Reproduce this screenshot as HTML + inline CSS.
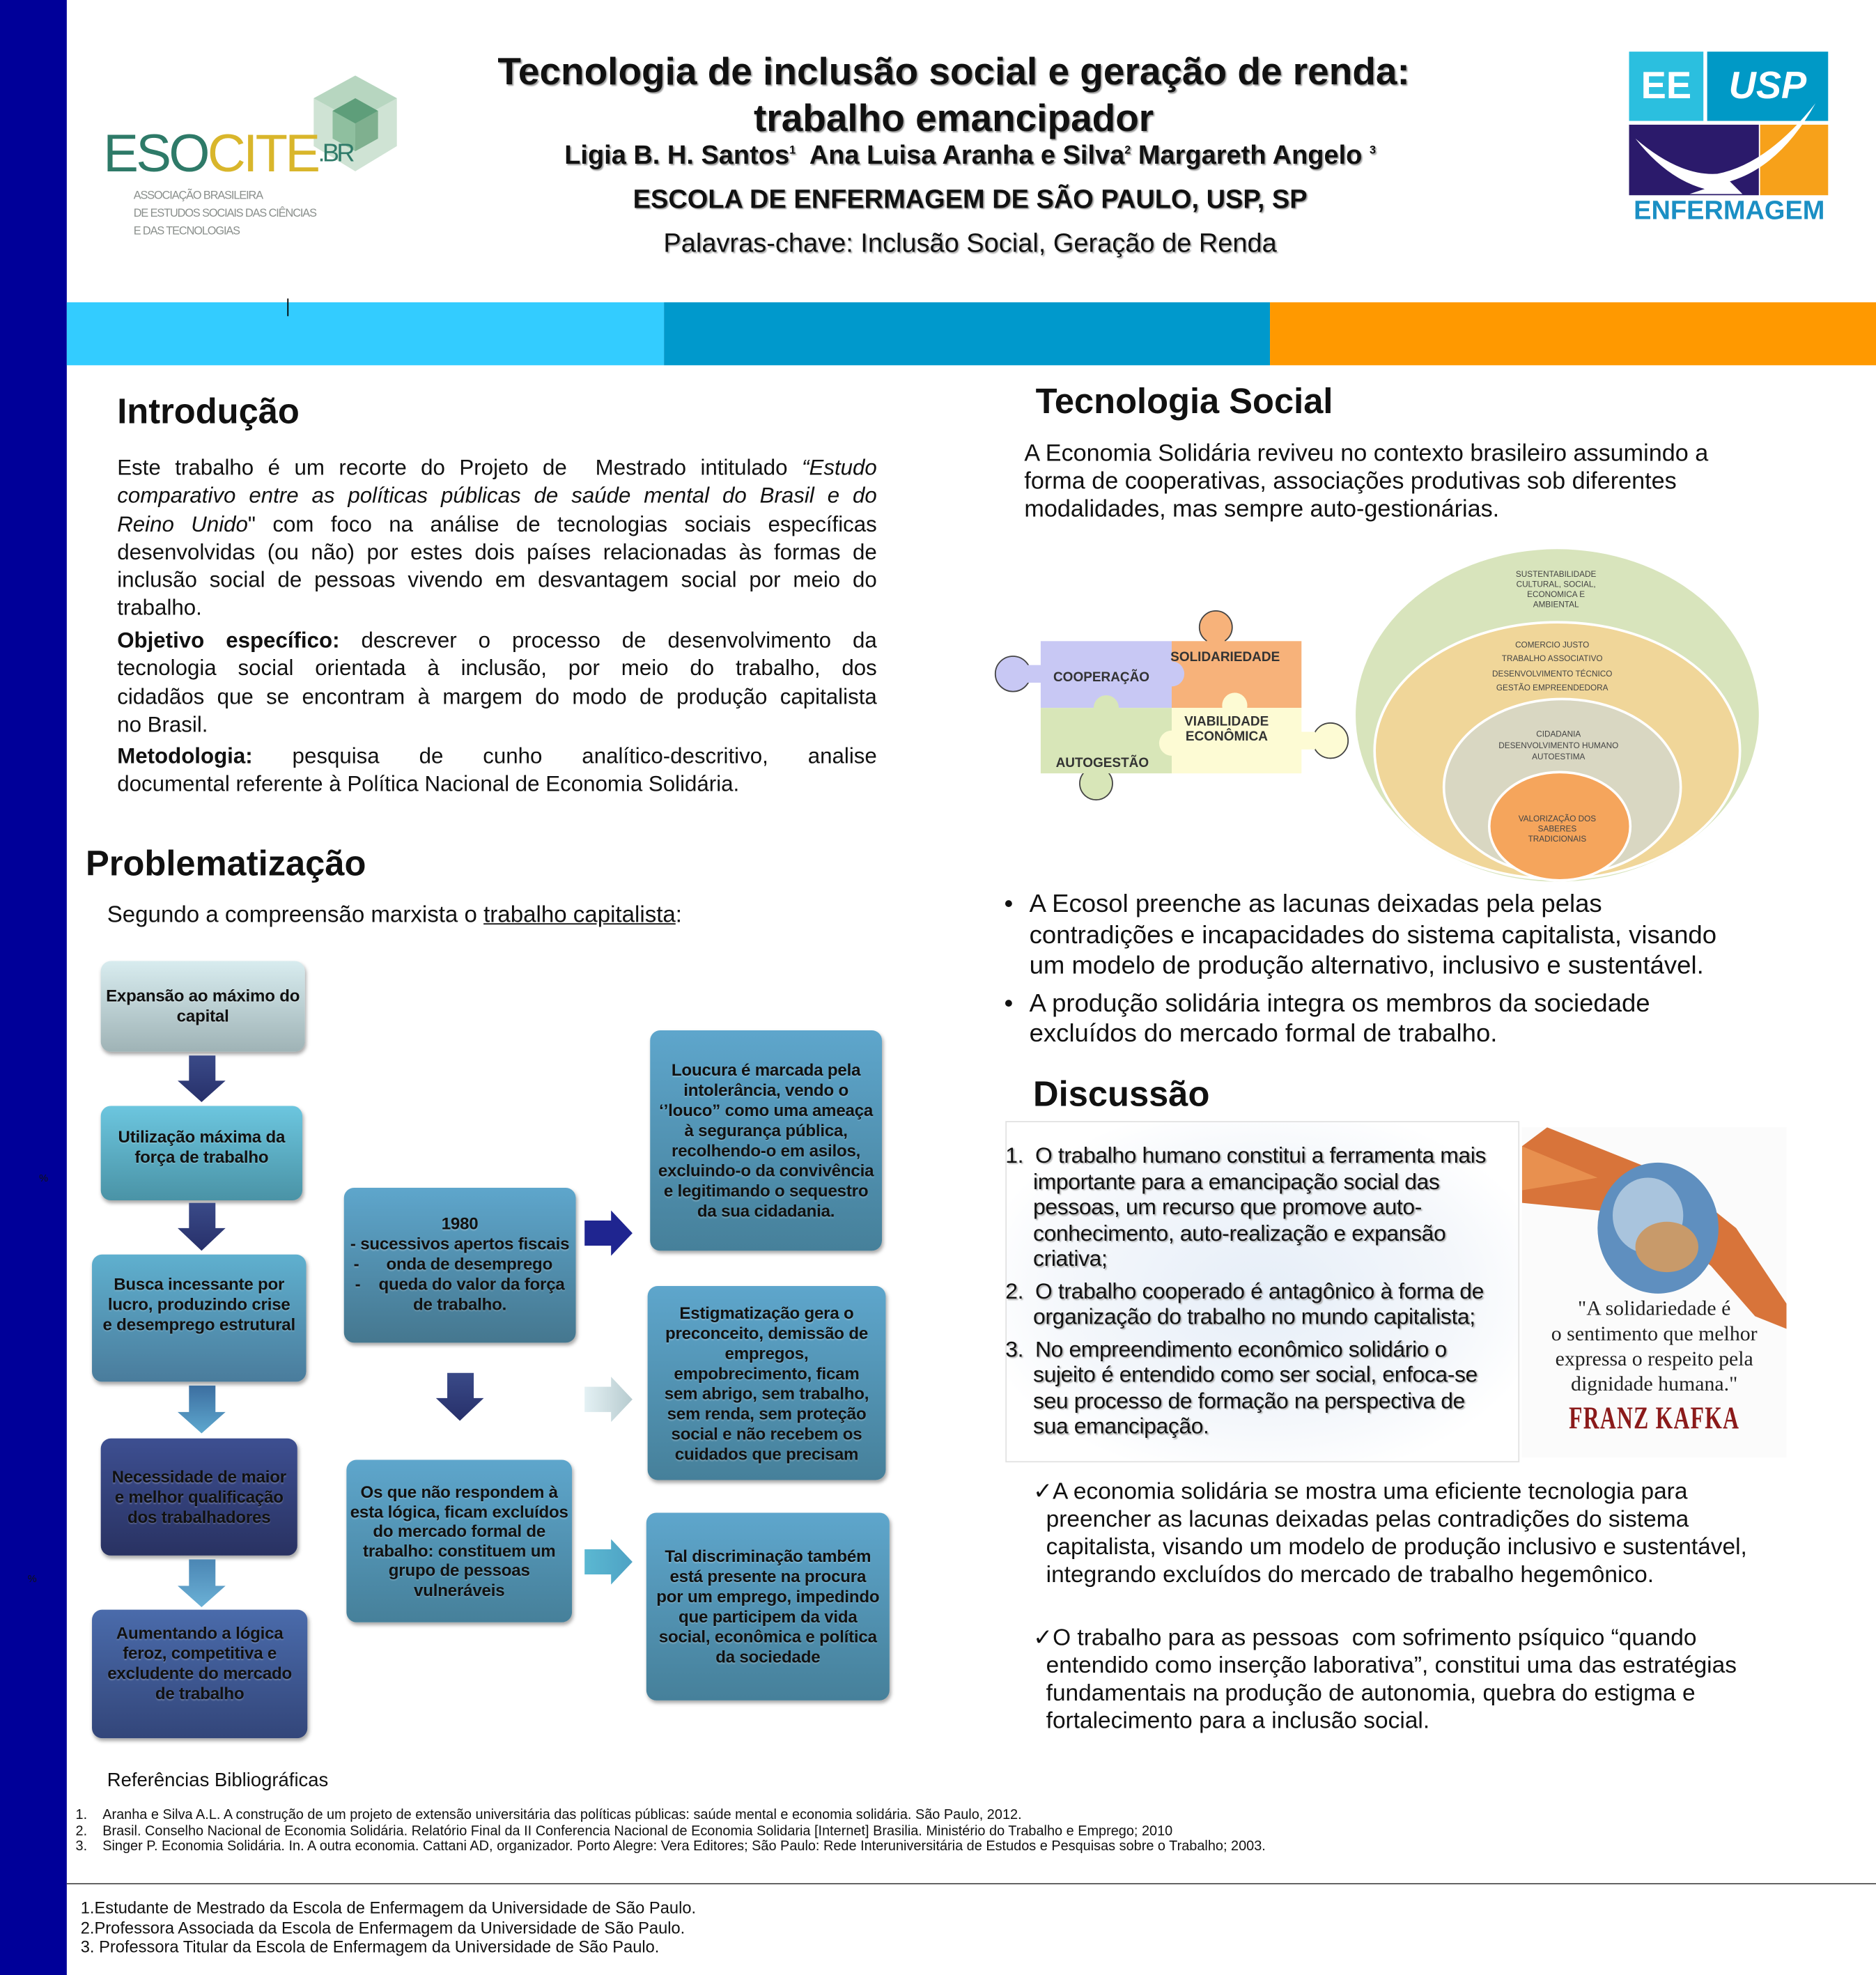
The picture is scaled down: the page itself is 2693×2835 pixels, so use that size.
<!DOCTYPE html>
<html><head><meta charset="utf-8">
<style>
*{margin:0;padding:0;box-sizing:border-box}
html,body{width:2693px;height:2835px;overflow:hidden;background:#fff}
#s{position:absolute;left:0;top:0;width:1489px;height:1568px;transform:scale(1.8086,1.80804);transform-origin:0 0;font-family:"Liberation Sans",sans-serif;color:#111}
.a{position:absolute}
.h{font-weight:bold;font-size:28px;color:#111}
.j div{text-align:justify;text-align-last:justify}
.j div.l{text-align-last:left}
.box{position:absolute;border-radius:8px;box-shadow:1px 2px 3px rgba(0,0,0,.35);display:flex;align-items:center;justify-content:center;text-align:center;font-weight:bold;font-size:13.3px;line-height:16px;color:#111;text-shadow:0 1px 1px rgba(255,255,255,.25);white-space:nowrap;letter-spacing:-0.1px}
.dl div{white-space:nowrap}
</style></head><body>
<div id="s">
<div class="a" style="left:0;top:0;width:53px;height:1568px;background:#000099"></div>
<div class="a" style="left:53px;top:240px;width:474px;height:50px;background:#33ccff"></div>
<div class="a" style="left:527px;top:240px;width:481px;height:50px;background:#0099cc"></div>
<div class="a" style="left:1008px;top:240px;width:481px;height:50px;background:#ff9900"></div>
<div class="a" style="left:228px;top:237px;width:1px;height:14px;background:#000"></div>
<div class="a" style="left:31px;top:931px;font-size:8px">%</div>
<div class="a" style="left:22px;top:1249px;font-size:8px">%</div>

<div class="a" style="left:250px;top:39px;width:1014px;text-align:center;font-weight:bold;font-size:30.4px;line-height:37px;text-shadow:1px 1px 1px #999">Tecnologia de inclusão social e geração de renda:<br>trabalho emancipador</div>
<div class="a" style="left:250px;top:112px;width:1040px;text-align:center;font-weight:bold;font-size:21px;text-shadow:1px 1px 1px #999">Ligia B. H. Santos<sup style="font-size:9px">1</sup>&nbsp; Ana Luisa Aranha e Silva<sup style="font-size:9px">2</sup> Margareth Angelo <sup style="font-size:9px">3</sup></div>
<div class="a" style="left:250px;top:147px;width:1040px;text-align:center;font-weight:bold;font-size:21px;text-shadow:1px 1px 1px #999">ESCOLA DE ENFERMAGEM DE SÃO PAULO, USP, SP</div>
<div class="a" style="left:250px;top:182px;width:1040px;text-align:center;font-size:21px;text-shadow:1px 1px 1px #aaa">Palavras-chave: Inclusão Social, Geração de Renda</div>

<svg class="a" style="left:245px;top:58px" width="75" height="80" viewBox="0 0 75 80">
<polygon points="37,2 70,20 70,58 37,78 4,58 4,20" fill="#cfe3d4"/>
<polygon points="37,2 70,20 37,38 4,20" fill="#b7d6c0"/>
<polygon points="37,20 55,30 55,52 37,62 19,52 19,30" fill="#8fbf9f"/>
<polygon points="37,20 55,30 37,40 19,30" fill="#5e9e7a"/>
<polygon points="37,40 55,30 55,52 37,62" fill="#7fb08f"/>
</svg>
<div class="a" style="left:82px;top:100px;font-size:42px;letter-spacing:-2px;line-height:44px"><span style="color:#2e7a68">ESO</span><span style="color:#d9b62b">CITE</span><span style="color:#2e7a68;font-size:20px;vertical-align:top">.BR</span></div>
<div class="a" style="left:106px;top:148px;font-size:9px;line-height:14px;color:#8a8f8c;letter-spacing:-0.6px">ASSOCIAÇÃO BRASILEIRA<br>DE ESTUDOS SOCIAIS DAS CIÊNCIAS<br>E DAS TECNOLOGIAS</div>

<div class="a" style="left:1293px;top:41px;width:59px;height:55px;background:#2bbfdf;color:#fff;font-weight:bold;font-size:30px;text-align:center;line-height:55px">EE</div>
<div class="a" style="left:1355px;top:41px;width:96px;height:55px;background:#0099c6;color:#fff;font-weight:bold;font-size:30px;text-align:center;line-height:55px;font-style:italic">USP</div>
<div class="a" style="left:1293px;top:99px;width:103px;height:56px;background:#2b1a6b"></div>
<div class="a" style="left:1397px;top:99px;width:54px;height:56px;background:#f7a11a"></div>
<svg class="a" style="left:1293px;top:80px" width="160" height="78"><path d="M148 2 Q110 50 70 58 Q40 60 5 30 Q30 62 60 70 L48 74 L90 74 L80 64 Q120 52 148 2Z" fill="#fff"/></svg>
<div class="a" style="left:1290px;top:156px;width:165px;text-align:center;font-weight:bold;font-size:21px;color:#1b8fc4">ENFERMAGEM</div>

<div class="a h" style="left:93px;top:311px">Introdução</div>
<div class="a j" style="left:93px;top:360px;width:603px;font-size:17.3px;line-height:22.3px">
<div>Este trabalho é um recorte do Projeto de &nbsp;Mestrado intitulado <i>“Estudo</i></div>
<div><i>comparativo entre as políticas públicas de saúde mental do Brasil e do</i></div>
<div><i>Reino Unido</i>" com foco na análise de tecnologias sociais específicas</div>
<div>desenvolvidas (ou não) por estes dois países relacionadas às formas de</div>
<div>inclusão social de pessoas vivendo em desvantagem social por meio do</div>
<div class="l">trabalho.</div>
</div>
<div class="a j" style="left:93px;top:497px;width:603px;font-size:17.3px;line-height:22.3px">
<div><b>Objetivo específico:</b> descrever o processo de desenvolvimento da</div>
<div>tecnologia social orientada à inclusão, por meio do trabalho, dos</div>
<div>cidadãos que se encontram à margem do modo de produção capitalista</div>
<div class="l">no Brasil.</div>
</div>
<div class="a j" style="left:93px;top:589px;width:603px;font-size:17.3px;line-height:22.3px">
<div><b>Metodologia:</b> pesquisa de cunho analítico-descritivo, analise</div>
<div class="l">documental referente à Política Nacional de Economia Solidária.</div>
</div>

<div class="a h" style="left:68px;top:670px">Problematização</div>
<div class="a" style="left:85px;top:715px;font-size:18.3px">Segundo a compreensão marxista o <u>trabalho capitalista</u>:</div>

<div class="box" style="left:80px;top:763px;width:162px;height:72px;background:linear-gradient(#d8ecef,#9fb3b6)">Expansão ao máximo do<br>capital</div>
<div class="box" style="left:80px;top:878px;width:160px;height:75px;background:linear-gradient(#6cc6df,#4a93a6);padding-bottom:10px">Utilização máxima da<br>força de trabalho</div>
<div class="box" style="left:73px;top:996px;width:170px;height:101px;background:linear-gradient(#5fb0cf,#4a7c9c);align-items:flex-start;padding-top:16px">Busca incessante por<br>lucro, produzindo crise<br>e desemprego estrutural</div>
<div class="box" style="left:80px;top:1142px;width:156px;height:93px;background:linear-gradient(#3d4f91,#293262)">Necessidade de maior<br>e melhor qualificação<br>dos trabalhadores</div>
<div class="box" style="left:73px;top:1278px;width:171px;height:102px;background:linear-gradient(#4a6bab,#33467a);align-items:flex-start;padding-top:11px">Aumentando a lógica<br>feroz, competitiva e<br>excludente do mercado<br>de trabalho</div>

<div class="box" style="left:273px;top:943px;width:184px;height:123px;background:linear-gradient(#5ea6cc,#45778f);align-items:flex-start;padding-top:21px;text-align:center">1980<br>- sucessivos apertos fiscais<br>-&nbsp;&nbsp;&nbsp;&nbsp;&nbsp;&nbsp;onda de desemprego&nbsp;&nbsp;&nbsp;<br>-&nbsp;&nbsp;&nbsp;&nbsp;queda do valor da força<br>de trabalho.</div>
<div class="box" style="left:275px;top:1159px;width:179px;height:129px;background:linear-gradient(#5ea6cc,#46809a);align-items:flex-start;padding-top:18px;line-height:15.6px">Os que não respondem à<br>esta lógica, ficam excluídos<br>do mercado formal de<br>trabalho: constituem um<br>grupo de pessoas<br>vulneráveis</div>

<div class="box" style="left:516px;top:818px;width:184px;height:175px;background:linear-gradient(#5ea6cc,#46809a);align-items:flex-start;padding-top:24px">Loucura é marcada pela<br>intolerância, vendo o<br>‘’louco” como uma ameaça<br>à segurança pública,<br>recolhendo-o em asilos,<br>excluindo-o da convivência<br>e legitimando o sequestro<br>da sua cidadania.</div>
<div class="box" style="left:514px;top:1021px;width:189px;height:154px;background:linear-gradient(#5ea6cc,#46809a);align-items:flex-start;padding-top:14px">Estigmatização gera o<br>preconceito, demissão de<br>empregos,<br>empobrecimento, ficam<br>sem abrigo, sem trabalho,<br>sem renda, sem proteção<br>social e não recebem os<br>cuidados que precisam</div>
<div class="box" style="left:513px;top:1201px;width:193px;height:149px;background:linear-gradient(#5ea6cc,#46809a);align-items:flex-start;padding-top:27px">Tal discriminação também<br>está presente na procura<br>por um emprego, impedindo<br>que participem da vida<br>social, econômica e política<br>da sociedade</div>

<svg class="a" style="left:0;top:0" width="720" height="1400">
<defs>
<linearGradient id="g1" x1="0" y1="0" x2="0" y2="1"><stop offset="0" stop-color="#3a4a88"/><stop offset="1" stop-color="#27306a"/></linearGradient>
<linearGradient id="g2" x1="0" y1="0" x2="0" y2="1"><stop offset="0" stop-color="#3c6ea0"/><stop offset="1" stop-color="#5ea8cf"/></linearGradient>
<linearGradient id="g3" x1="0" y1="0" x2="0" y2="1"><stop offset="0" stop-color="#4b86b4"/><stop offset="1" stop-color="#6bb1d6"/></linearGradient>
<linearGradient id="g4" x1="0" y1="0" x2="1" y2="0"><stop offset="0" stop-color="#e4f1f4"/><stop offset="1" stop-color="#b7cbcf"/></linearGradient>
<linearGradient id="g5" x1="0" y1="0" x2="1" y2="0"><stop offset="0" stop-color="#5bb8d2"/><stop offset="1" stop-color="#4ea2c4"/></linearGradient>
</defs>
<polygon points="150,838 171,838 171,858 179,858 160,875 141,858 150,858" fill="url(#g1)"/>
<polygon points="150,955 171,955 171,975 179,975 160,993 141,975 150,975" fill="url(#g1)"/>
<polygon points="150,1100 171,1100 171,1121 179,1121 160,1138 141,1121 150,1121" fill="url(#g2)"/>
<polygon points="150,1238 171,1238 171,1259 179,1259 160,1276 141,1259 150,1259" fill="url(#g3)"/>
<polygon points="355,1090 376,1090 376,1110 384,1110 365,1128 346,1110 355,1110" fill="url(#g1)"/>
<polygon points="464,969 485,969 485,961 502,979 485,997 485,989 464,989" fill="#1f2590"/>
<polygon points="464,1101 485,1101 485,1093 502,1111 485,1129 485,1121 464,1121" fill="url(#g4)"/>
<polygon points="464,1230 485,1230 485,1222 502,1240 485,1258 485,1250 464,1250" fill="url(#g5)"/>
</svg>

<div class="a h" style="left:822px;top:303px">Tecnologia Social</div>
<div class="a" style="left:813px;top:350px;font-size:18.9px;line-height:22px">A Economia Solidária reviveu no contexto brasileiro assumindo a<br>forma de cooperativas, associações produtivas sob diferentes<br>modalidades, mas sempre auto-gestionárias.</div>

<svg class="a" style="left:780px;top:480px" width="300" height="160" viewBox="780 480 300 160">
<g stroke="#444" stroke-width="1">
<circle cx="804" cy="535" r="14" fill="#c8c8f4"/>
<circle cx="965" cy="498" r="13" fill="#f7b27a"/>
<circle cx="870" cy="622" r="13" fill="#d8e6b8"/>
<circle cx="1056" cy="588" r="14" fill="#fdfbd4"/>
</g>
<rect x="814" y="528" width="14" height="14" fill="#c8c8f4"/>
<rect x="958" y="506" width="14" height="6" fill="#f7b27a"/>
<rect x="863" y="610" width="14" height="6" fill="#d8e6b8"/>
<rect x="1030" y="581" width="14" height="14" fill="#fdfbd4"/>
<rect x="826" y="509" width="104" height="53" fill="#c8c8f4"/>
<rect x="930" y="509" width="103" height="53" fill="#f7b27a"/>
<rect x="826" y="562" width="104" height="52" fill="#d8e6b8"/>
<rect x="930" y="562" width="103" height="52" fill="#fdfbd4"/>
<circle cx="930" cy="535" r="10" fill="#c8c8f4"/>
<circle cx="980" cy="560" r="10" fill="#fdfbd4"/>
<circle cx="878" cy="562" r="10" fill="#d8e6b8"/>
<circle cx="930" cy="590" r="10" fill="#fdfbd4"/>
<g font-family="Liberation Sans,sans-serif" font-weight="bold" font-size="10.5" fill="#333">
<text x="836" y="541">COOPERAÇÃO</text>
<text x="929" y="525">SOLIDARIEDADE</text>
<text x="940" y="576">VIABILIDADE</text>
<text x="941" y="588">ECONÔMICA</text>
<text x="838" y="609">AUTOGESTÃO</text>
</g>
</svg>

<svg class="a" style="left:1070px;top:430px" width="340" height="280" viewBox="1070 430 340 280">
<ellipse cx="1236" cy="568" rx="160" ry="132" fill="#d8e4bc"/>
<ellipse cx="1236" cy="596" rx="145" ry="102" fill="#f0d699" stroke="#fff" stroke-width="2"/>
<ellipse cx="1240" cy="625" rx="94" ry="70" fill="#d9d7c2" stroke="#fff" stroke-width="2"/>
<ellipse cx="1238" cy="656" rx="56" ry="43" fill="#f5a55c" stroke="#fff" stroke-width="2"/>
<g font-family="Liberation Sans,sans-serif" font-size="6.5" fill="#444" text-anchor="middle">
<text x="1235" y="458">SUSTENTABILIDADE</text><text x="1235" y="466">CULTURAL, SOCIAL,</text><text x="1235" y="474">ECONOMICA E</text><text x="1235" y="482">AMBIENTAL</text>
<text x="1232" y="514">COMERCIO JUSTO</text><text x="1232" y="525">TRABALHO ASSOCIATIVO</text><text x="1232" y="537">DESENVOLVIMENTO TÉCNICO</text><text x="1232" y="548">GESTÃO EMPREENDEDORA</text>
<text x="1237" y="585">CIDADANIA</text><text x="1237" y="594">DESENVOLVIMENTO HUMANO</text><text x="1237" y="603">AUTOESTIMA</text>
<text x="1236" y="652">VALORIZAÇÃO DOS</text><text x="1236" y="660">SABERES</text><text x="1236" y="668">TRADICIONAIS</text>
</g>
</svg>

<div class="a" style="left:797px;top:706px;font-size:20.2px;line-height:24.5px">•<br><br><br><span style="position:relative;top:5px">•</span></div>
<div class="a" style="left:817px;top:706px;font-size:20.2px;line-height:24.5px;white-space:nowrap">A Ecosol preenche as lacunas deixadas pela pelas<br>contradições e incapacidades do sistema capitalista, visando<br>um modelo de produção alternativo, inclusivo e sustentável.<div style="height:5px"></div>A produção solidária integra os membros da sociedade<br>excluídos do mercado formal de trabalho.</div>

<div class="a h" style="left:820px;top:853px">Discussão</div>
<div class="a" style="left:798px;top:890px;width:408px;height:271px;border:1px solid #e2e2e2;background:radial-gradient(ellipse at 50% 50%,#e6eef8 0%,#f4f7fb 55%,#fff 80%)"></div>
<div class="a dl" style="left:798px;top:907px;font-size:17.6px;line-height:20.5px;text-shadow:1px 1px 1px #aaa;letter-spacing:-0.2px">
<div>1.&nbsp; O trabalho humano constitui a ferramenta mais</div>
<div style="padding-left:22px">importante para a emancipação social das</div>
<div style="padding-left:22px">pessoas, um recurso que promove auto-</div>
<div style="padding-left:22px">conhecimento, auto-realização e expansão</div>
<div style="padding-left:22px">criativa;</div>
<div style="margin-top:5px">2.&nbsp; O trabalho cooperado é antagônico à forma de</div>
<div style="padding-left:22px">organização do trabalho no mundo capitalista;</div>
<div style="margin-top:5px">3.&nbsp; No empreendimento econômico solidário o</div>
<div style="padding-left:22px">sujeito é entendido como ser social, enfoca-se</div>
<div style="padding-left:22px">seu processo de formação na perspectiva de</div>
<div style="padding-left:22px">sua emancipação.</div>
</div>

<div class="a" style="left:1208px;top:895px;width:210px;height:262px;background:#fbfbfb;overflow:hidden">
<svg width="210" height="262" viewBox="0 0 210 262">
<path d="M0 15 L20 0 L120 40 L170 80 L210 140 L210 160 L185 150 L150 110 L100 70 L0 60Z" fill="#d8743a"/>
<path d="M0 15 L60 40 L0 50Z" fill="#e8904f"/>
<ellipse cx="108" cy="80" rx="48" ry="52" fill="#5f8fbf"/>
<ellipse cx="100" cy="70" rx="28" ry="30" fill="#a9c4dd"/>
<ellipse cx="115" cy="95" rx="25" ry="20" fill="#c89a6a"/>
</svg>
</div>
<div class="a" style="left:1208px;top:1029px;width:210px;text-align:center;font-family:'Liberation Serif',serif;font-size:16.5px;line-height:20px;color:#222">"A solidariedade é<br>o sentimento que melhor<br>expressa o respeito pela<br>dignidade humana."</div>
<div class="a" style="left:1208px;top:1113px;width:210px;text-align:center;font-family:'Liberation Serif',serif;font-weight:bold;font-size:25px;color:#8b1a1a;transform:scaleX(0.7);letter-spacing:1px">FRANZ KAFKA</div>

<div class="a" style="left:820px;top:1173px;font-size:18.5px;line-height:22px;white-space:nowrap">✓A economia solidária se mostra uma eficiente tecnologia para<br>&nbsp;&nbsp;preencher as lacunas deixadas pelas contradições do sistema<br>&nbsp;&nbsp;capitalista, visando um modelo de produção inclusivo e sustentável,<br>&nbsp;&nbsp;integrando excluídos do mercado de trabalho hegemônico.</div>
<div class="a" style="left:820px;top:1289px;font-size:18.5px;line-height:22px;white-space:nowrap">✓O trabalho para as pessoas &nbsp;com sofrimento psíquico “quando<br>&nbsp;&nbsp;entendido como inserção laborativa”, constitui uma das estratégias<br>&nbsp;&nbsp;fundamentais na produção de autonomia, quebra do estigma e<br>&nbsp;&nbsp;fortalecimento para a inclusão social.</div>

<div class="a" style="left:85px;top:1405px;font-size:15.2px">Referências Bibliográficas</div>
<div class="a" style="left:60px;top:1435px;font-size:11px;line-height:12.6px;white-space:nowrap">
<div>1.&nbsp;&nbsp;&nbsp;&nbsp;Aranha e Silva A.L. A construção de um projeto de extensão universitária das políticas públicas: saúde mental e economia solidária. São Paulo, 2012.</div>
<div>2.&nbsp;&nbsp;&nbsp;&nbsp;Brasil. Conselho Nacional de Economia Solidária. Relatório Final da II Conferencia Nacional de Economia Solidaria [Internet] Brasilia. Ministério do Trabalho e Emprego; 2010</div>
<div>3.&nbsp;&nbsp;&nbsp;&nbsp;Singer P. Economia Solidária. In. A outra economia. Cattani AD, organizador. Porto Alegre: Vera Editores; São Paulo: Rede Interuniversitária de Estudos e Pesquisas sobre o Trabalho; 2003.</div>
</div>
<div class="a" style="left:53px;top:1495px;width:1436px;height:1px;background:#555"></div>
<div class="a" style="left:64px;top:1507px;font-size:13.1px;line-height:15.5px">1.Estudante de Mestrado da Escola de Enfermagem da Universidade de São Paulo.<br>2.Professora Associada da Escola de Enfermagem da Universidade de São Paulo.<br>3. Professora Titular da Escola de Enfermagem da Universidade de São Paulo.</div>
</div>
</body></html>
